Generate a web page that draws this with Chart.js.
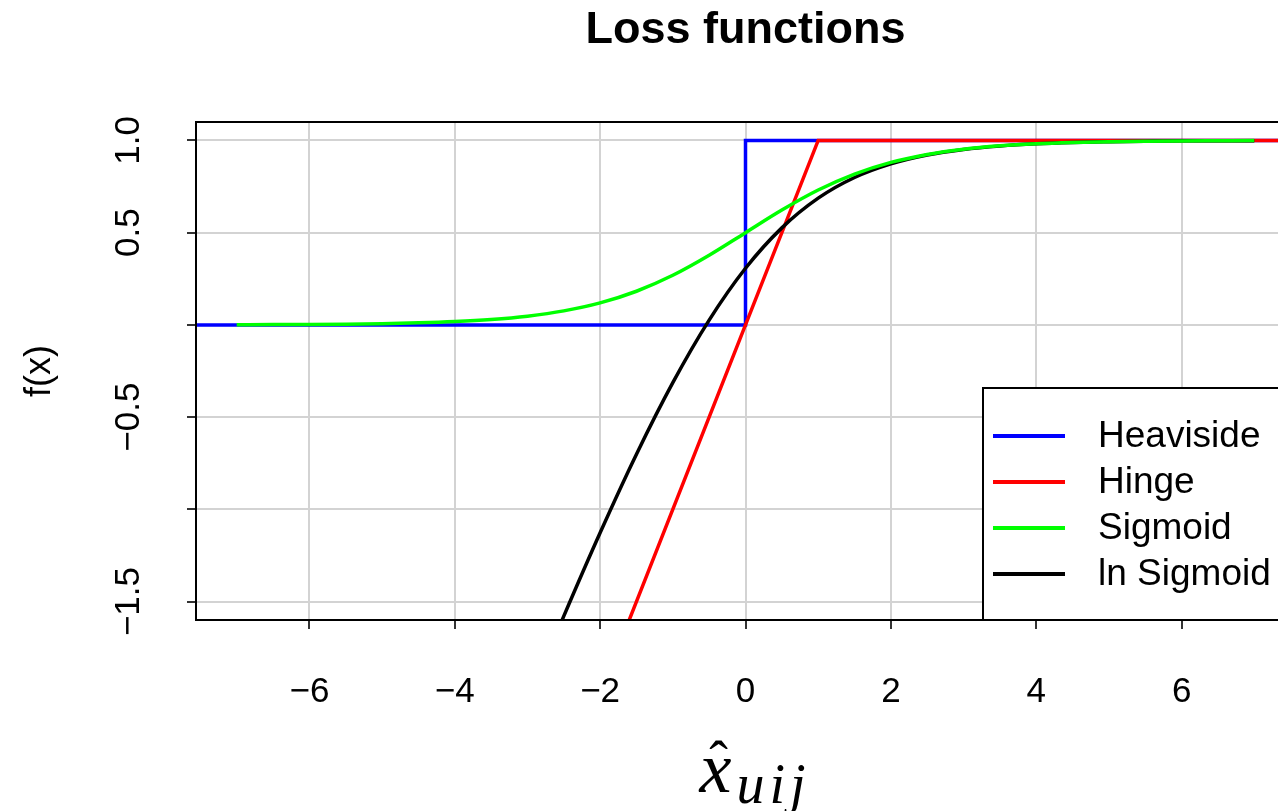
<!DOCTYPE html>
<html>
<head>
<meta charset="utf-8">
<title>Loss functions</title>
<script src="https://cdn.jsdelivr.net/npm/chart.js@4.4.1/dist/chart.umd.min.js"></script>
<style>
  html, body { margin: 0; padding: 0; background: #fff; overflow: hidden; }
  #wrap { width: 1491px; height: 811px; }
</style>
</head>
<body>
<div id="wrap"><canvas id="lossChart" width="1491" height="811"></canvas></div>
<script>
// values
const heavisideX = [-8, 0, 0, 8];
const heavisideY = [0, 0, 1, 1];

const hingeX = [-8, 1, 8];
const hingeY = [-8, 1, 1];

const sigmoidX = [-7, -6.5, -6, -5.5, -5, -4.5, -4, -3.5, -3, -2.5, -2, -1.5, -1, -0.5,
                  0, 0.5, 1, 1.5, 2, 2.5, 3, 3.5, 4, 4.5, 5, 5.5, 6, 6.5, 7];
const sigmoidY = [0.0009, 0.0015, 0.0025, 0.0041, 0.0067, 0.011, 0.018, 0.0293, 0.0474, 0.0759,
                  0.1192, 0.1824, 0.2689, 0.3775, 0.5, 0.6225, 0.7311, 0.8176, 0.8808, 0.9241,
                  0.9526, 0.9707, 0.982, 0.989, 0.9933, 0.9959, 0.9975, 0.9985, 0.9991];

const lnSigmoidX = [-3, -2.5, -2, -1.5, -1, -0.5, 0, 0.5, 1, 1.5, 2, 2.5, 3, 3.5, 4, 4.5, 5, 5.5, 6, 6.5, 7];
const lnSigmoidY = [-2.049, -1.579, -1.127, -0.701, -0.313, 0.026, 0.307, 0.526, 0.687, 0.799, 0.873,
                    0.921, 0.951, 0.97, 0.982, 0.989, 0.993, 0.996, 0.998, 0.998, 0.999];

const seriesNames = ['Heaviside', 'Hinge', 'Sigmoid', 'ln Sigmoid'];

const xTickValues = [-6, -4, -2, 0, 2, 4, 6];
const xTickLabels = ['\u22126', '\u22124', '\u22122', '0', '2', '4', '6'];
const yTickValues = [-1.5, -1, -0.5, 0, 0.5, 1];
const yTickLabels = ['\u22121.5', '', '\u22120.5', '', '0.5', '1.0'];

const SANS = '"Liberation Sans", Arial, Helvetica, sans-serif';
const SERIF = '"Liberation Serif", "DejaVu Serif", serif';

function pairs(xs, ys) {
    return xs.map(function (x, i) { return { x: x, y: ys[i] }; });
}

// box round the plot + legend in the bottom right corner
const boxAndLegend = {
    id: 'boxAndLegend',
    afterDatasetsDraw(chart) {
        const ctx = chart.ctx;
        const a = chart.chartArea;
        ctx.save();
        ctx.strokeStyle = '#000';
        ctx.lineWidth = 2;
        ctx.strokeRect(a.left, a.top, a.right - a.left, a.bottom - a.top);

        const w = 312, h = 232;
        const bx = a.right - w, by = a.bottom - h;
        ctx.fillStyle = '#fff';
        ctx.fillRect(bx, by, w, h);
        ctx.strokeRect(bx, by, w, h);

        ctx.font = '37px ' + SANS;
        ctx.textBaseline = 'middle';
        ctx.textAlign = 'left';
        chart.data.datasets.forEach(function (ds, i) {
            const y = by + 48 + i * 46;
            ctx.strokeStyle = ds.borderColor;
            ctx.lineWidth = 4;
            ctx.beginPath();
            ctx.moveTo(bx + 10, y);
            ctx.lineTo(bx + 82, y);
            ctx.stroke();
            ctx.fillStyle = '#000';
            ctx.fillText(ds.label, bx + 115, y + 1);
        });
        ctx.restore();
    }
};

// x axis label: x-hat with subscript uij
const mathXLabel = {
    id: 'mathXLabel',
    afterDraw(chart) {
        const ctx = chart.ctx;
        const a = chart.chartArea;
        const cx = (a.left + a.right) / 2;
        const x0 = cx - 46;
        ctx.save();
        ctx.fillStyle = '#000';
        ctx.textBaseline = 'alphabetic';
        ctx.textAlign = 'left';
        ctx.font = 'italic 72px ' + SERIF;
        const xw = ctx.measureText('x').width;
        ctx.fillText('x', x0, 792);
        ctx.textAlign = 'center';
        ctx.font = '56px ' + SERIF;
        ctx.fillText('\u02C6', x0 + xw / 2 + 3, 780);
        ctx.textAlign = 'left';
        ctx.font = 'italic 56px ' + SERIF;
        ctx.letterSpacing = '5px';
        ctx.fillText('uij', x0 + xw + 5, 803);
        ctx.restore();
    }
};

const canvas = document.getElementById('lossChart');

new Chart(canvas, {
    type: 'line',
    data: {
        datasets: [{
            label: seriesNames[0],
            data: pairs(heavisideX, heavisideY),
            borderColor: '#0000ff',
            order: 3
        }, {
            label: seriesNames[1],
            data: pairs(hingeX, hingeY),
            borderColor: '#ff0000',
            order: 2
        }, {
            label: seriesNames[2],
            data: pairs(sigmoidX, sigmoidY),
            borderColor: '#00ff00',
            cubicInterpolationMode: 'monotone',
            order: 0
        }, {
            label: seriesNames[3],
            data: pairs(lnSigmoidX, lnSigmoidY),
            borderColor: '#000000',
            cubicInterpolationMode: 'monotone',
            order: 1
        }]
    },
    options: {
        responsive: false,
        animation: false,
        devicePixelRatio: 1,
        layout: { padding: 0 },
        elements: {
            point: { radius: 0, hoverRadius: 0 },
            line: { borderWidth: 3.5, fill: false, tension: 0 }
        },
        plugins: {
            legend: { display: false },
            tooltip: { enabled: false },
            title: {
                display: true,
                text: 'Loss functions',
                color: '#000',
                font: { family: SANS, size: 45, weight: 'bold' },
                padding: { top: 4, bottom: 64 }
            }
        },
        scales: {
            x: {
                type: 'linear',
                min: -7.56,
                max: 7.56,
                afterBuildTicks: function (s) {
                    s.ticks = xTickValues.map(function (v) { return { value: v }; });
                },
                afterFit: function (s) { s.height = 191; },
                ticks: {
                    autoSkip: false,
                    maxRotation: 0,
                    color: '#000',
                    padding: 42,
                    font: { family: SANS, size: 35 },
                    callback: function (v) { return xTickLabels[xTickValues.indexOf(v)]; }
                },
                grid: { color: '#d3d3d3', lineWidth: 2, tickLength: 9, tickColor: '#333', tickWidth: 2 },
                border: { display: false }
            },
            y: {
                type: 'linear',
                min: -1.6,
                max: 1.1,
                afterBuildTicks: function (s) {
                    s.ticks = yTickValues.map(function (v) { return { value: v }; });
                },
                afterFit: function (s) { s.width = 196; },
                ticks: {
                    autoSkip: false,
                    minRotation: 90,
                    maxRotation: 90,
                    crossAlign: 'center',
                    color: '#000',
                    padding: 23,
                    font: { family: SANS, size: 35 },
                    callback: function (v) { return yTickLabels[yTickValues.indexOf(v)]; }
                },
                grid: { color: '#d3d3d3', lineWidth: 2, tickLength: 9, tickColor: '#333', tickWidth: 2 },
                border: { display: false },
                title: {
                    display: true,
                    text: 'f(x)',
                    color: '#000',
                    font: { family: SANS, size: 36 },
                    padding: { top: 18, bottom: 0 }
                }
            },
            // empty right-hand margin so the title centres over the plot
            yRight: {
                type: 'linear',
                position: 'right',
                min: -1.6,
                max: 1.1,
                afterFit: function (s) { s.width = 196; },
                ticks: { display: false },
                grid: { display: false },
                border: { display: false }
            }
        }
    },
    plugins: [boxAndLegend, mathXLabel]
});
</script>
</body>
</html>
